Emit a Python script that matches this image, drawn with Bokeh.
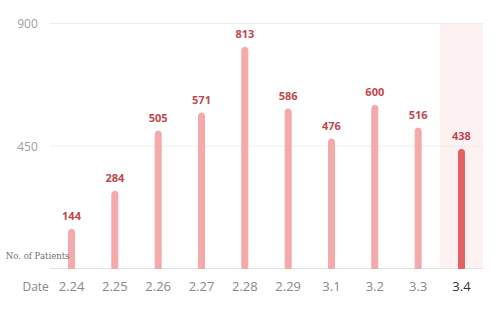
from bokeh.plotting import figure
from bokeh.models import Range1d, ColumnDataSource
from bokeh.core.properties import value
from bokeh.embed import file_html
from bokeh.resources import INLINE

dates = ["2.24", "2.25", "2.26", "2.27", "2.28", "2.29", "3.1", "3.2", "3.3", "3.4"]
patients = [144, 284, 505, 571, 813, 586, 476, 600, 516, 438]
y_ticks = [450, 900]
y_tick_labels = ["450", "900"]
highlight_index = 9

# layout constants (pixels)
W, H = 500, 316
cat_px = 43.33
frame_left = 49.33
y_top_px, y_zero_px = 23, 268
y_max = 900

n = len(dates)
xs = [i + 0.5 for i in range(n)]
colors = ["#f4a9aa"] * n
colors[highlight_index] = "#e26163"
tick_colors = ["#888888"] * n
tick_colors[highlight_index] = "#333333"

units_per_px = y_max / (y_zero_px - y_top_px)
x_start = -frame_left / cat_px
x_end = x_start + W / cat_px
y_start = -(H - y_zero_px) * units_per_px
y_end = y_max + y_top_px * units_per_px

p = figure(width=W, height=H, output_backend="svg", toolbar_location=None,
           x_range=Range1d(x_start, x_end), y_range=Range1d(y_start, y_end),
           min_border=0, x_axis_location=None, y_axis_location=None)
p.outline_line_color = None
p.grid.visible = False
p.background_fill_color = "white"
p.border_fill_color = "white"

# highlight band
p.quad(left=[highlight_index], right=[n], bottom=[0], top=[y_max],
       fill_color="#fdf2f1", line_color=None)

# grid lines and baseline
p.segment(x0=[0] * len(y_ticks), x1=[n] * len(y_ticks), y0=y_ticks, y1=y_ticks,
          line_color="#eeeeee", line_width=1)
p.segment(x0=[0], x1=[n], y0=[0], y1=[0], line_color="#e3e3e3", line_width=1)

src = ColumnDataSource(dict(x=xs, top=patients, color=colors,
                            label=[str(v) for v in patients],
                            date=dates, tcolor=tick_colors))
p.vbar(x="x", top="top", bottom=0, width=6 / cat_px, color="color", source=src,
       border_radius=(3, 3, 0, 0))
p.text(x="x", y="top", text="label", source=src, text_align="center",
       text_baseline="middle", y_offset=-13, text_color="#c0474f",
       text_font_size="11px", text_font_style="bold", text_font=value("Open Sans"))

# x tick labels
p.text(x="x", y=0, text="date", source=src, text_align="center", text_baseline="middle",
       y_offset=18, text_color="tcolor", text_font_size="13px",
       text_font=value("Open Sans"))

# y tick labels
p.text(x=[0] * len(y_ticks), y=y_ticks, text=y_tick_labels, text_align="right",
       text_baseline="middle", x_offset=-12, text_color="#a0a0a0",
       text_font_size="12px", text_font=value("Open Sans"))

# axis titles
p.text(x=[0], y=[0], text=["Date"], text_align="right", text_baseline="middle",
       x_offset=-1, y_offset=18, text_color="#888888", text_font_size="12px",
       text_font=value("Open Sans"))
p.text(x=[0], y=[0], text=["No. of Patients"], text_align="left", text_baseline="middle",
       x_offset=-44, y_offset=-13, text_color="#707070", text_font_size="8.5px",
       text_font=value("DejaVu Serif"))

open("out.html", "w").write(file_html(p, INLINE))
